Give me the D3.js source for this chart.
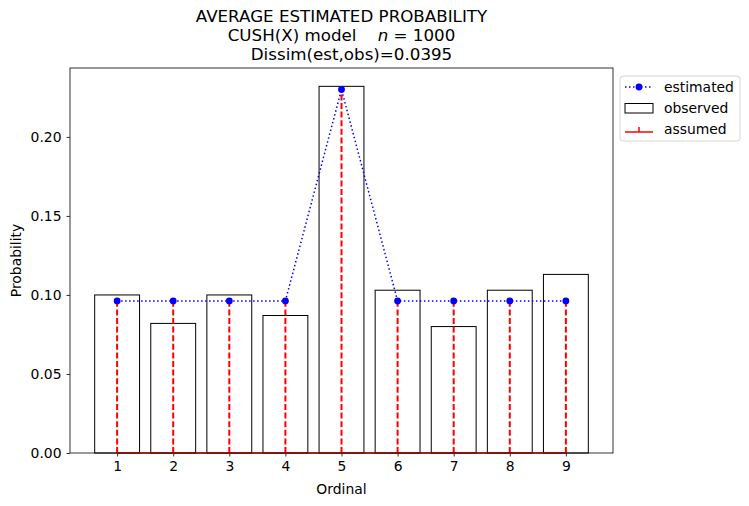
<!DOCTYPE html>
<html>
<head>
<meta charset="utf-8">
<script src="https://cdn.jsdelivr.net/npm/d3@7"></script>
<style>
body { margin: 0; background: #fff; }
text { font-family: "DejaVu Sans", sans-serif; fill: #000; }
</style>
</head>
<body>
<div id="vis"></div>
<script>
var w = 749;
var h = 506;
var margin = {left: 70, right: 136, top: 68, bottom: 53};

// data
var ordinals = [1, 2, 3, 4, 5, 6, 7, 8, 9];
var observed = [0.100, 0.082, 0.100, 0.087, 0.232, 0.103, 0.080, 0.103, 0.113];
var estimated = [0.09625, 0.09625, 0.09625, 0.09625, 0.2300, 0.09625, 0.09625, 0.09625, 0.09625];
var yTicks = [0.00, 0.05, 0.10, 0.15, 0.20];
var titleLines = ["AVERAGE ESTIMATED PROBABILITY", "CUSH(X) model", "Dissim(est,obs)=0.0395"];
var legendLabels = ["estimated", "observed", "assumed"];

var svg = d3.select("#vis")
    .append("svg")
    .attr("width", w)
    .attr("height", h);

var x = d3.scaleLinear()
    .domain([0.16, 9.84])
    .range([margin.left, w - margin.right]);

var y = d3.scaleLinear()
    .domain([0, 0.2436])
    .range([h - margin.bottom, margin.top]);

var barW = 0.8;

// bars (observed)
svg.selectAll("rect.bar")
    .data(observed)
    .enter()
    .append("rect")
    .attr("class", "bar")
    .attr("x", function(d, i) { return x(ordinals[i] - barW / 2); })
    .attr("y", function(d) { return y(d); })
    .attr("width", function(d, i) { return x(ordinals[i] + barW / 2) - x(ordinals[i] - barW / 2); })
    .attr("height", function(d) { return y(0) - y(d); })
    .attr("fill", "none")
    .attr("stroke", "#000")
    .attr("stroke-width", 1);

// stems (assumed)
svg.selectAll("line.stem")
    .data(estimated)
    .enter()
    .append("line")
    .attr("class", "stem")
    .attr("x1", function(d, i) { return x(ordinals[i]); })
    .attr("x2", function(d, i) { return x(ordinals[i]); })
    .attr("y1", y(0))
    .attr("y2", function(d) { return y(d); })
    .attr("stroke", "red")
    .attr("stroke-width", 2)
    .attr("stroke-dasharray", "6,2.6");

// estimated line
var line = d3.line()
    .x(function(d, i) { return x(ordinals[i]); })
    .y(function(d) { return y(d); });

svg.append("path")
    .datum(estimated)
    .attr("d", line)
    .attr("fill", "none")
    .attr("stroke", "blue")
    .attr("stroke-width", 1.5)
    .attr("stroke-dasharray", "1.5,2.5");

svg.selectAll("circle.est")
    .data(estimated)
    .enter()
    .append("circle")
    .attr("class", "est")
    .attr("cx", function(d, i) { return x(ordinals[i]); })
    .attr("cy", function(d) { return y(d); })
    .attr("r", 3.4)
    .attr("fill", "blue");

// axes
var xAxis = svg.append("g")
    .attr("transform", "translate(0," + y(0) + ")")
    .call(d3.axisBottom(x).tickValues(ordinals).tickSize(3.5).tickPadding(5).tickFormat(d3.format("d")));

var yAxis = svg.append("g")
    .attr("transform", "translate(" + margin.left + ",0)")
    .call(d3.axisLeft(y).tickValues(yTicks).tickSize(3.5).tickPadding(5).tickFormat(d3.format(".2f")));

[xAxis, yAxis].forEach(function(a) {
    a.select(".domain").remove();
    a.selectAll("text").style("font-size", "13.9px").style("font-family", "DejaVu Sans");
    a.selectAll("line").attr("stroke", "#000").attr("stroke-width", 0.8);
});

// baseline of stems
svg.append("line")
    .attr("x1", x(1))
    .attr("x2", x(9))
    .attr("y1", y(0))
    .attr("y2", y(0))
    .attr("stroke", "red")
    .attr("stroke-width", 1.5);

// frame
svg.append("rect")
    .attr("x", margin.left)
    .attr("y", margin.top)
    .attr("width", w - margin.right - margin.left)
    .attr("height", h - margin.bottom - margin.top)
    .attr("fill", "none")
    .attr("stroke", "#000")
    .attr("stroke-width", 0.8);

// labels
svg.append("text")
    .text("Ordinal")
    .attr("x", (margin.left + w - margin.right) / 2)
    .attr("y", 494)
    .attr("text-anchor", "middle")
    .style("font-size", "13.9px");

svg.append("text")
    .text("Probability")
    .attr("transform", "translate(21," + (margin.top + h - margin.bottom) / 2 + ") rotate(-90)")
    .attr("text-anchor", "middle")
    .style("font-size", "13.9px");

// title
var cx = (margin.left + w - margin.right) / 2;
svg.append("text")
    .text(titleLines[0])
    .attr("x", cx)
    .attr("y", 22)
    .attr("text-anchor", "middle")
    .style("font-size", "16.7px");

var t2 = svg.append("text")
    .attr("x", cx)
    .attr("y", 41)
    .attr("text-anchor", "middle")
    .style("font-size", "16.7px")
    .attr("xml:space", "preserve");
t2.append("tspan").text(titleLines[1] + "    ");
t2.append("tspan").text("n").style("font-style", "italic");
t2.append("tspan").text(" = 1000");

svg.append("text")
    .text(titleLines[2])
    .attr("x", cx + 10)
    .attr("y", 60)
    .attr("text-anchor", "middle")
    .style("font-size", "16.7px");

// legend
var lg = svg.append("g").attr("transform", "translate(620,76)");
lg.append("rect")
    .attr("width", 120)
    .attr("height", 65)
    .attr("rx", 3)
    .attr("fill", "#fff")
    .attr("stroke", "#ccc")
    .attr("stroke-width", 0.8);

legendLabels.forEach(function(lab, i) {
    var ly = 11 + i * 21;
    lg.append("text")
        .text(lab)
        .attr("x", 44)
        .attr("y", ly + 5)
        .style("font-size", "13.9px");
    if (i === 0) {
        lg.append("line").attr("x1", 5).attr("x2", 33).attr("y1", ly).attr("y2", ly)
            .attr("stroke", "blue").attr("stroke-width", 1.5).attr("stroke-dasharray", "1.5,2.5");
        lg.append("circle").attr("cx", 19).attr("cy", ly).attr("r", 3.4).attr("fill", "blue");
    } else if (i === 1) {
        lg.append("rect").attr("x", 5).attr("y", ly - 4.5).attr("width", 28).attr("height", 9.5)
            .attr("fill", "none").attr("stroke", "#000").attr("stroke-width", 1);
    } else {
        lg.append("line").attr("x1", 5).attr("x2", 33).attr("y1", ly + 3).attr("y2", ly + 3)
            .attr("stroke", "red").attr("stroke-width", 1.5);
        lg.append("line").attr("x1", 19).attr("x2", 19).attr("y1", ly - 2).attr("y2", ly + 3)
            .attr("stroke", "red").attr("stroke-width", 1.5);
    }
});
</script>
</body>
</html>
